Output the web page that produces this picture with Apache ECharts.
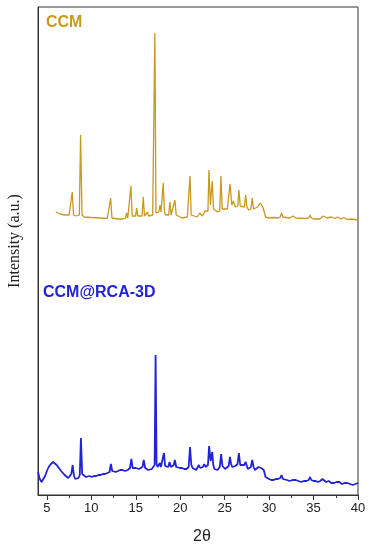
<!DOCTYPE html>
<html><head><meta charset="utf-8">
<script src="https://cdn.jsdelivr.net/npm/echarts@6/dist/echarts.min.js"></script>
<style>html,body{margin:0;padding:0;background:#fff}#c{width:373px;height:550px}</style>
</head><body><div id="c"></div>
<script>
var xTicks = [5,10,15,20,25,30,35,40];
var xMinorTicks = [7.5,12.5,17.5,22.5,27.5,32.5,37.5];

var ccmTheta = [6.0,6.5,7.0,7.5,7.7,7.85,8.0,8.3,8.65,8.79,8.95,9.2,10,11,11.8,12.02,12.17,12.32,12.5,13,13.6,13.85,13.97,14.1,14.3,14.45,14.6,14.75,14.98,15.1,15.22,15.4,15.7,15.84,15.98,16.15,16.3,16.45,16.6,16.9,17.03,17.15,17.27,17.4,17.6,17.72,17.84,17.95,18.09,18.22,18.35,18.7,18.84,18.98,19.15,19.4,19.55,19.7,20.2,20.8,20.97,21.1,21.23,21.4,21.9,22.2,22.5,22.8,23.0,23.12,23.23,23.4,23.6,23.75,23.85,24.2,24.45,24.58,24.72,24.9,25.3,25.48,25.6,25.8,25.97,26.2,26.48,26.6,26.75,26.9,27.22,27.36,27.5,27.7,27.95,28.1,28.25,28.4,28.7,29.0,29.3,29.6,30,30.5,31.0,31.25,31.4,31.55,31.7,32.3,32.7,33.0,34.0,34.45,34.6,34.75,35.0,35.7,36.1,36.5,37.0,37.4,37.7,38.1,38.4,38.8,39.3,40];
var ccmIntensity = [283,281,280,280,281,303,280,279,280,360,280,278,277.5,277,276.5,277,297,277,276,276,276,277,282,277,278,309,279,278,279,287,279,278,279,298,279,280,283,279,279,280,281,462,282,282,283,290,283,284,312,283,280,280,293,280,279,295,280,278,277,278,279,319,280,278,278,282,279,284,282,284,325,290,314,286,284,283,284,319,286,285,286,287,311,290,294,288,289,305,289,287,288,300,288,285,286,297,286,284,288,292,288,278,277,277.5,277,278,282,278,277,277,279,277,276.5,277,280,277,276,276,279,277,278,276.5,278,276,277.5,275.5,276,275];

var rcaTheta = [4.0,4.2,4.4,4.6,4.8,5.0,5.2,5.45,5.7,5.9,6.1,6.35,6.6,6.8,7.0,7.2,7.4,7.6,7.75,7.9,8.05,8.2,8.35,8.55,8.7,8.83,8.97,9.1,9.4,9.6,9.8,10.05,10.3,10.55,10.8,11.05,11.3,11.55,11.8,12.05,12.2,12.35,12.5,12.75,13.0,13.25,13.5,13.8,14.1,14.35,14.5,14.65,14.8,15.0,15.2,15.35,15.5,15.75,15.9,16.05,16.2,16.4,16.6,16.8,16.95,17.12,17.23,17.34,17.45,17.58,17.7,17.82,17.95,18.17,18.3,18.45,18.65,18.8,18.95,19.1,19.27,19.4,19.55,19.7,19.95,20.2,20.45,20.7,20.95,21.1,21.25,21.4,21.6,21.8,21.95,22.1,22.25,22.4,22.55,22.7,22.85,23.0,23.12,23.25,23.42,23.6,23.72,23.85,24.05,24.2,24.45,24.6,24.75,24.9,25.05,25.2,25.45,25.6,25.72,25.85,26.05,26.2,26.45,26.6,26.75,26.9,27.2,27.36,27.5,27.6,27.95,28.1,28.25,28.4,28.6,28.8,28.95,29.1,29.25,29.4,29.6,29.8,30.0,30.25,30.5,30.75,31.0,31.25,31.4,31.55,31.7,32.0,32.3,32.65,33.0,33.3,33.6,33.9,34.2,34.45,34.6,34.75,35.0,35.25,35.5,35.75,36.0,36.2,36.4,36.7,37.0,37.3,37.6,37.9,38.2,38.5,38.8,39.1,39.4,39.7,40.0];
var rcaIntensity = [23,16,13,15,19,24,28,31,33,32,30,27,24,22,20,18,17,19,21,30,19,16,15,17,20,57,21,19,18,19,19,18,19,19,20,20,21,21,22,23,31,24,24,23,24,25,25,24,25,27,36,27,26,27,28,26,27,28,35,27,26,25,25,26,27,30,140,31,28,29,32,28,27,42,29,27,28,33,28,27,30,35,28,26,27,27,26,26,28,48,30,27,26,25,27,30,27,26,28,31,28,27,30,49,34,43,30,26,27,25,28,41,29,27,26,28,29,38,31,28,28,29,31,42,30,28,30,33,29,26,28,35,28,25,27,28,29,27,26,25,18,17,16,15,15,16,16,17,20,16,15,15,14,15,15,14,13,14,14,15,18,15,14,14,13,14,16,14,13,14,12,12,13,13,11,12,12,11,10,11,12];

function pairs(xs, ys){ var out=[]; for(var i=0;i<xs.length;i++) out.push([xs[i], ys[i]]); return out; }

var chart = echarts.init(document.getElementById('c'), null, {renderer:'canvas'});
chart.setOption({
  animation:false,
  backgroundColor:'#fff',
  grid:{left:38,right:15,top:7,bottom:55,show:true,borderColor:'#333',borderWidth:1,backgroundColor:'transparent'},
  xAxis:[{
    type:'value',min:4,max:40,
    axisLine:{show:true,lineStyle:{color:'#333',width:1}},
    axisTick:{show:true,customValues:xTicks,length:5,inside:false,lineStyle:{color:'#333'}},
    axisLabel:{show:true,customValues:xTicks,margin:7,fontSize:13,color:'#222',fontFamily:'Liberation Sans, Arial, sans-serif'},
    splitLine:{show:false}
  },{
    type:'value',min:4,max:40,position:'bottom',
    axisLine:{show:false},
    axisTick:{show:true,customValues:xMinorTicks,length:3,inside:false,lineStyle:{color:'#333'}},
    axisLabel:{show:false},
    splitLine:{show:false}
  }],
  yAxis:{
    type:'value',min:0,max:488,
    axisLine:{show:true,lineStyle:{color:'#333'}},
    axisTick:{show:false},axisLabel:{show:false},splitLine:{show:false}
  },
  series:[{
    type:'line',name:'CCM',data:pairs(ccmTheta,ccmIntensity),showSymbol:false,
    lineStyle:{color:'#C8991F',width:1.3},itemStyle:{color:'#C8991F'}
  },{
    type:'line',name:'CCM@RCA-3D',data:pairs(rcaTheta,rcaIntensity),showSymbol:false,
    lineStyle:{color:'#2222D6',width:1.8},itemStyle:{color:'#2222D6'}
  }],
  graphic:[
    {type:'text',left:46,top:15,style:{text:'CCM',fill:'#C8991F',font:'bold 16px "Liberation Sans", Arial, sans-serif'}},
    {type:'text',left:43,top:285,style:{text:'CCM@RCA-3D',fill:'#2222D6',font:'bold 16px "Liberation Sans", Arial, sans-serif'}},
    {type:'text',x:202,y:537,style:{text:'2θ',fill:'#222',font:'16px "Liberation Sans", Arial, sans-serif',align:'center',verticalAlign:'middle'}},
    {type:'text',x:15,y:241,rotation:Math.PI/2,style:{text:'Intensity (a.u.)',fill:'#222',font:'16px "Liberation Serif", "Times New Roman", serif',align:'center',verticalAlign:'middle'}}
  ]
});
</script>
</body></html>
